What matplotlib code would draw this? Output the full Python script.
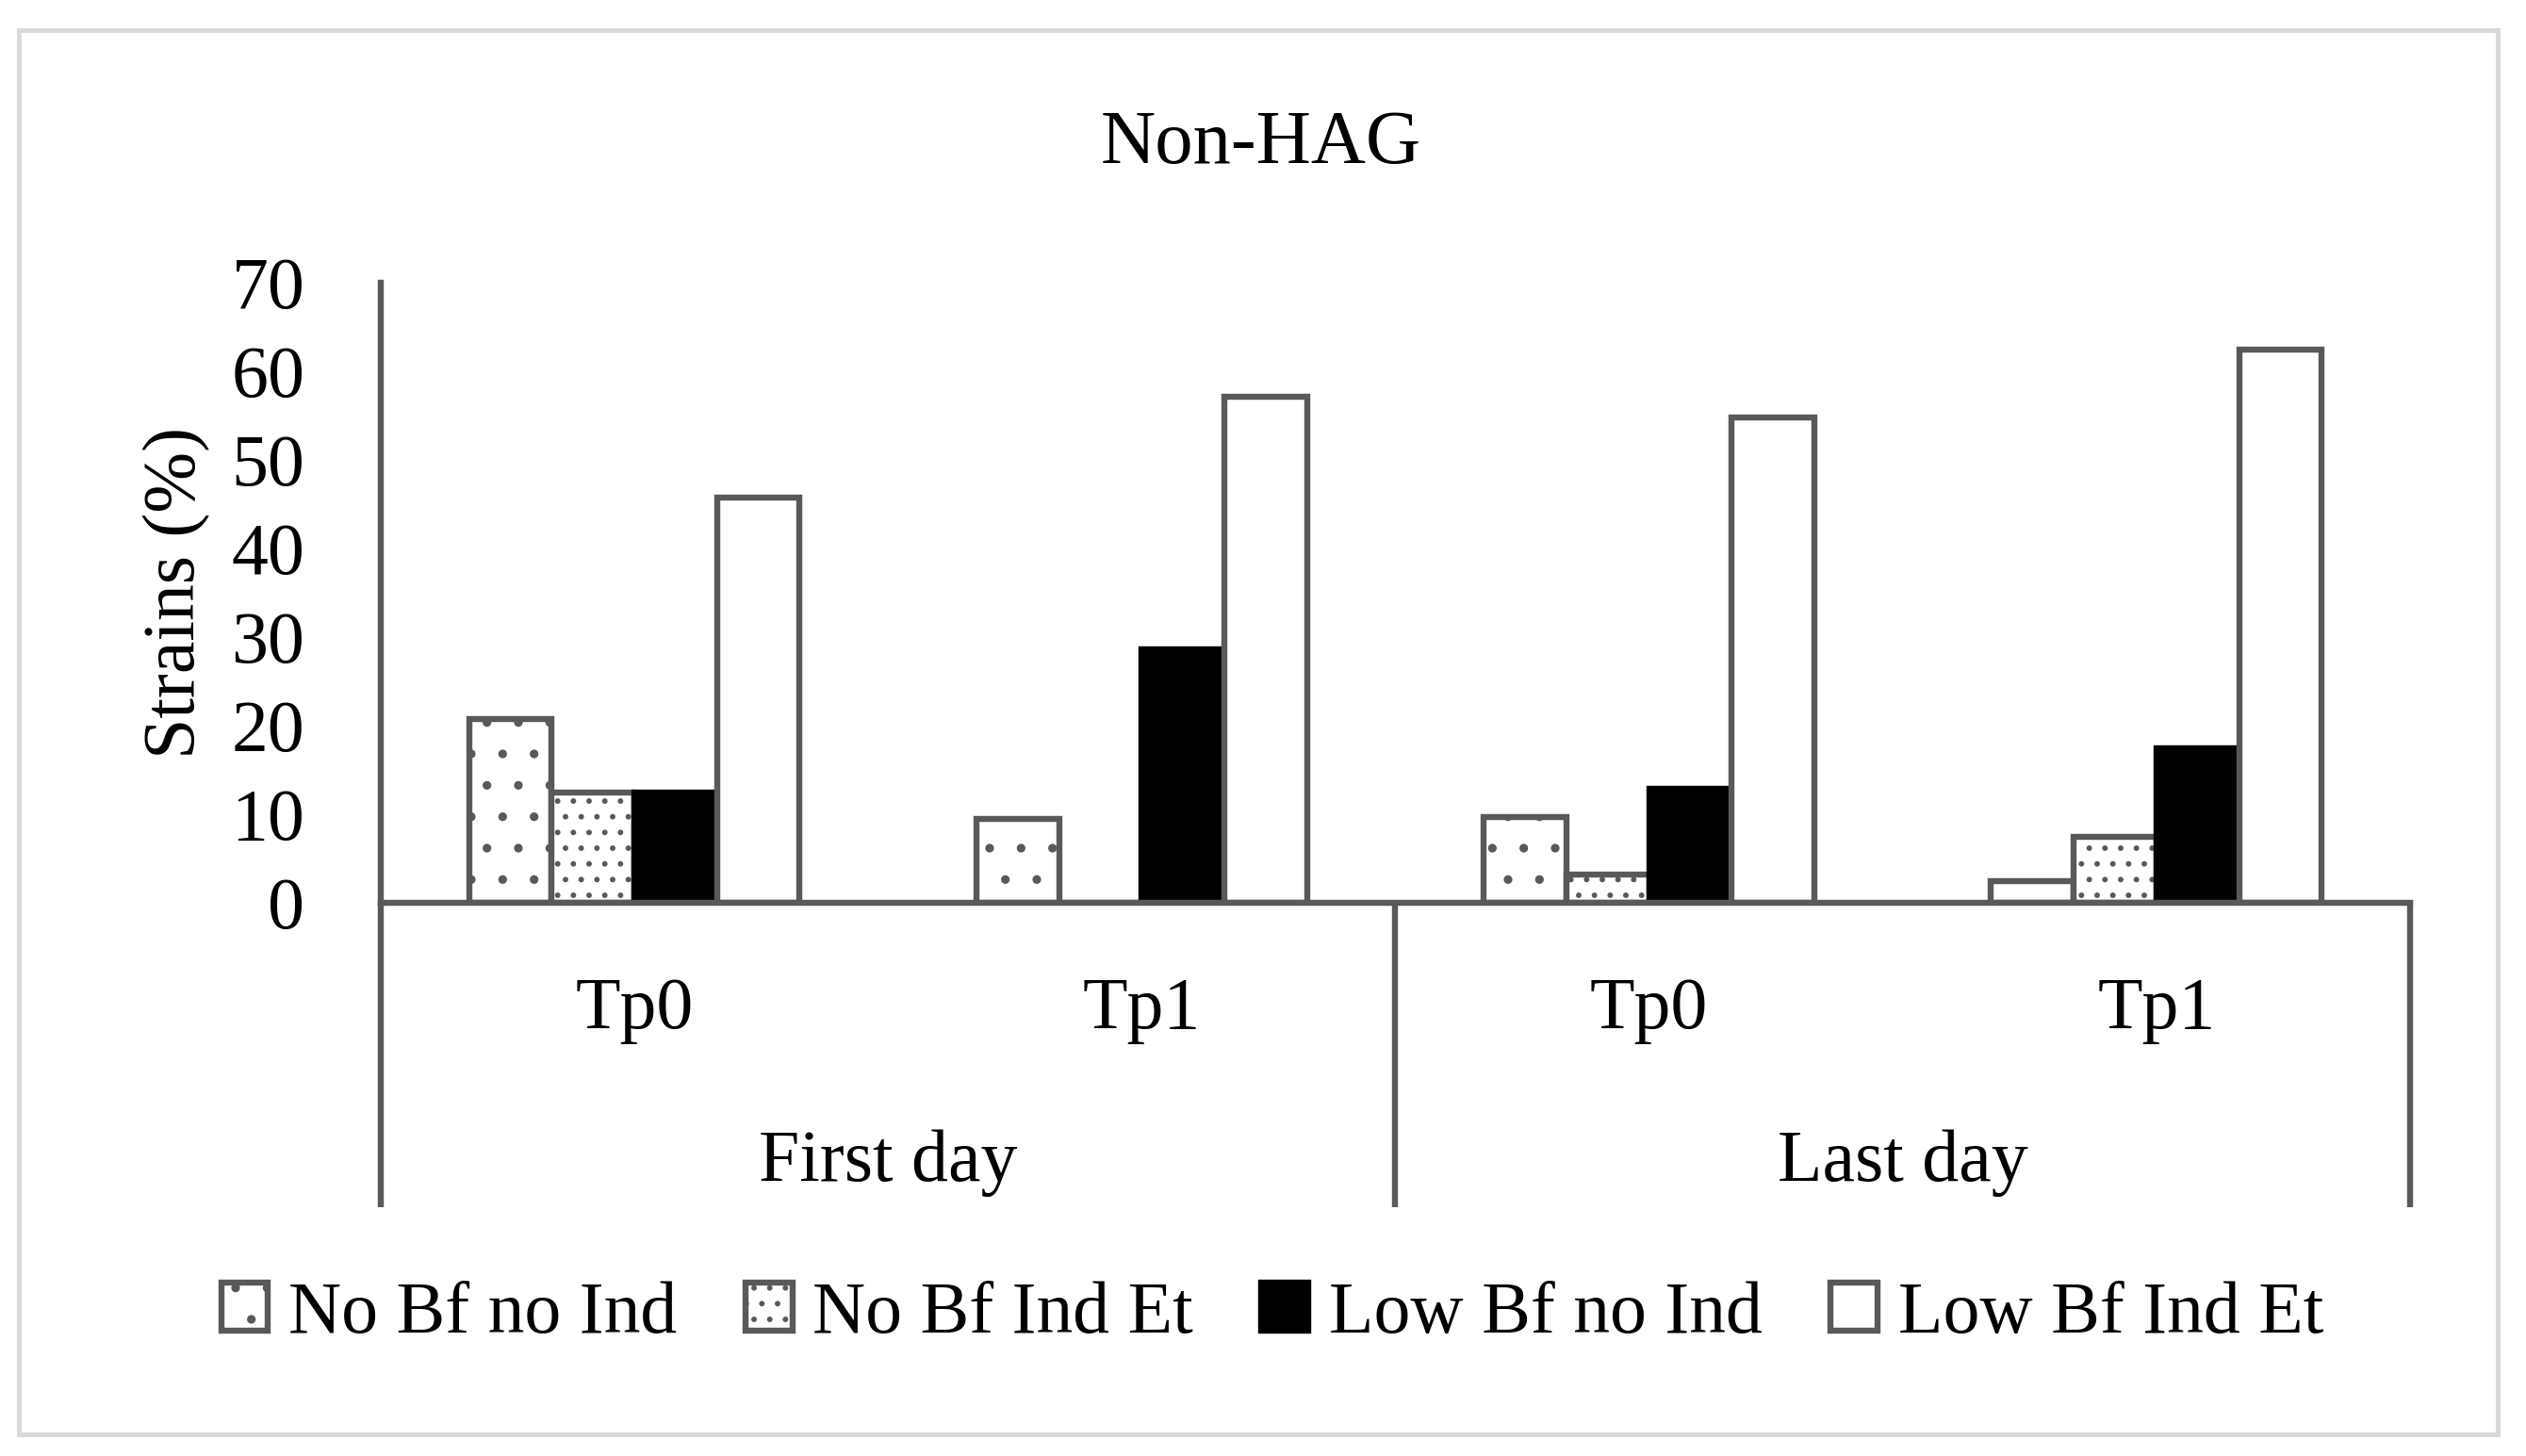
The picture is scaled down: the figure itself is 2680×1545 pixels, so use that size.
import matplotlib.pyplot as plt
import numpy as np
from matplotlib.patches import Rectangle
from matplotlib.transforms import blended_transform_factory

# Data (percent of strains)
days = ["First day", "Last day"]
timepoints = ["Tp0", "Tp1", "Tp0", "Tp1"]
series = ["No Bf no Ind", "No Bf Ind Et", "Low Bf no Ind", "Low Bf Ind Et"]

no_bf_no_ind = [20.8, 9.5, 9.7, 2.5]
no_bf_ind_et = [12.5, 0.0, 3.2, 7.5]
low_bf_no_ind = [12.5, 28.6, 12.9, 17.5]
low_bf_ind_et = [45.8, 57.1, 54.8, 62.5]

yticks = [0, 10, 20, 30, 40, 50, 60, 70]

plt.rcParams['font.family'] = ['Liberation Serif', 'DejaVu Serif']
plt.rcParams['font.size'] = 28
plt.rcParams['hatch.linewidth'] = 0.9

gray = '#595959'
fills = ['white', 'white', 'black', 'white']
hatches = ['.', '..', None, None]
edges = [gray, gray, 'black', gray]

fig = plt.figure(figsize=(13.4, 7.725), dpi=200)
ax = fig.add_axes([0.1507, 0.3799, 0.8034, 0.4259])

x = np.arange(len(timepoints))
width = 0.163
values = [no_bf_no_ind, no_bf_ind_et, low_bf_no_ind, low_bf_ind_et]
for j, (name, vals) in enumerate(zip(series, values)):
    ax.bar(x + (j - 1.5) * width, vals, width, label=name,
           color=fills[j], edgecolor=edges[j], hatch=hatches[j],
           linewidth=2.3, zorder=2)

ax.set_xlim(-0.5, 3.5)
ax.set_ylim(0, 70)
ax.set_yticks(yticks)
ax.tick_params(axis='y', length=0, pad=29, labelsize=28)
ax.set_xticks([])

for side in ['top', 'right']:
    ax.spines[side].set_visible(False)
for side in ['left', 'bottom']:
    ax.spines[side].set_color(gray)
    ax.spines[side].set_linewidth(2.3)
ax.spines['bottom'].set_zorder(3)

# multi-level category axis
trans = blended_transform_factory(ax.transData, ax.transAxes)
for xi, tp in zip(x, timepoints):
    ax.text(xi, -0.2021, tp, transform=trans, ha='center', va='baseline')
bounds = [-0.5, 1.5, 3.5]
for k, day in enumerate(days):
    ax.text((bounds[k] + bounds[k + 1]) / 2, -0.4483, day, transform=trans,
            ha='center', va='baseline')
for b in bounds:
    ax.plot([b, b], [0, -0.491], transform=trans, color=gray, lw=2.3,
            clip_on=False, solid_capstyle='butt')

ax.set_ylabel('Strains (%)', fontsize=28, va='center')
ax.yaxis.set_label_coords(-0.1003, 0.5)

fig.suptitle('Non-HAG', x=0.4993, y=1 - 173 / 1545, va='baseline', fontsize=29)

fig.legend(loc='center', bbox_to_anchor=(0.5037, 0.0971), ncol=4,
           frameon=False, handlelength=0.64, handleheight=0.64,
           handletextpad=0.28, columnspacing=0.93, fontsize=28)

# chart-area border
fig.patches.append(Rectangle((0.0075, 0.0149), 0.9813, 0.9644,
                             transform=fig.transFigure, fill=False,
                             edgecolor='#d9d9d9', linewidth=1.8))

fig.savefig('out.png', dpi=200, facecolor='white')
